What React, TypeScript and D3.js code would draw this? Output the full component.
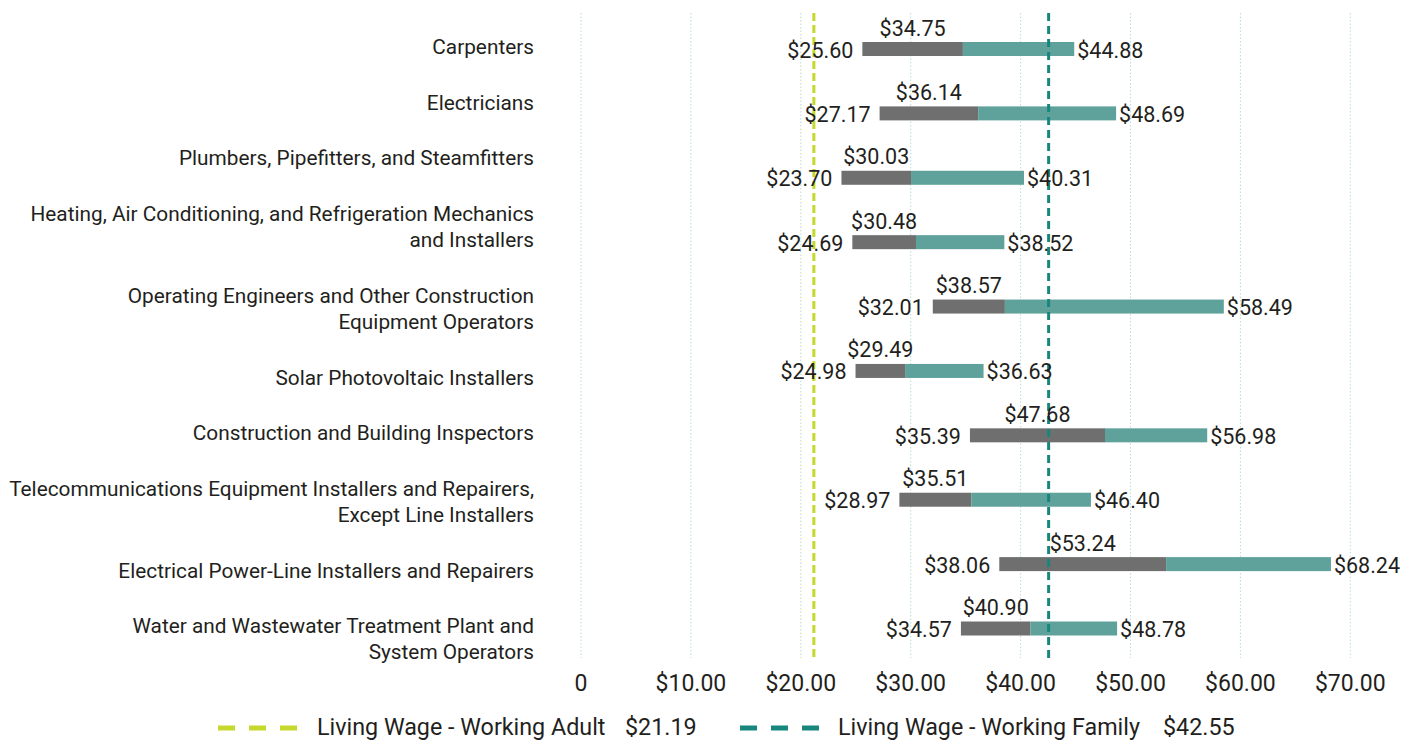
import React from "react";
import * as d3 from "d3";

const categories: string[][] = [
  ["Carpenters"],
  ["Electricians"],
  ["Plumbers, Pipefitters, and Steamfitters"],
  ["Heating, Air Conditioning, and Refrigeration Mechanics", "and Installers"],
  ["Operating Engineers and Other Construction", "Equipment Operators"],
  ["Solar Photovoltaic Installers"],
  ["Construction and Building Inspectors"],
  ["Telecommunications Equipment Installers and Repairers,", "Except Line Installers"],
  ["Electrical Power-Line Installers and Repairers"],
  ["Water and Wastewater Treatment Plant and", "System Operators"],
];
const lowWage = [25.6, 27.17, 23.7, 24.69, 32.01, 24.98, 35.39, 28.97, 38.06, 34.57];
const medianWage = [34.75, 36.14, 30.03, 30.48, 38.57, 29.49, 47.68, 35.51, 53.24, 40.9];
const highWage = [44.88, 48.69, 40.31, 38.52, 58.49, 36.63, 56.98, 46.4, 68.24, 48.78];
const tickValues = [0, 10, 20, 30, 40, 50, 60, 70];
const livingWageAdult = 21.19;
const livingWageFamily = 42.55;
const legendNames = ["Living Wage - Working Adult", "Living Wage - Working Family"];
const legendValues = [livingWageAdult, livingWageFamily];

const W = 1413;
const H = 744;
const FONT = "Roboto, 'Open Sans', sans-serif";
const TXT = "#231f20";
const GREY = "#6f6f6f";
const TEAL = "#5fa19b";
const LIME = "#c5d82c";
const DTEAL = "#17867c";
const GRID = "#b9dcd8";

export default function App() {
  const x = d3.scaleLinear().domain([0, 75]).range([581, 581 + 75 * 10.99]);
  const y = d3
    .scalePoint<number>()
    .domain(d3.range(categories.length))
    .range([49, 628.5]);
  const fmt = (v: number) => (v === 0 ? "0" : "$" + d3.format(".2f")(v));
  const plotTop = 13;
  const plotBottom = 660;
  const barH = 14;

  // category label flow layout
  const labelPos: number[][] = [];
  let cy = 47;
  categories.forEach((lines) => {
    const arr: number[] = [];
    lines.forEach((_, j) => {
      if (j > 0) cy += 26;
      arr.push(cy);
    });
    labelPos.push(arr);
    cy += 55.7;
  });

  const legend = [
    { sx: 218, tx: 317, vx: 625, color: LIME },
    { sx: 740, tx: 838, vx: 1163, color: DTEAL },
  ];

  return (
    <svg width={W} height={H} style={{ display: "block", position: "absolute", left: 0, top: 0 }} fontFamily={FONT}>
      <rect width={W} height={H} fill="#fff" />
      {tickValues.map((t) => (
        <g key={t}>
          <line x1={x(t)} x2={x(t)} y1={plotTop} y2={plotBottom - 2} stroke={GRID} strokeWidth={1} strokeDasharray="1.5 2" />
          <text x={x(t)} y={683} textAnchor="middle" dominantBaseline="central" fontSize={23} fill={TXT}>
            {fmt(t)}
          </text>
        </g>
      ))}
      {categories.map((lines, i) => (
        <g key={i}>
          {lines.map((ln, j) => (
            <text key={j} x={534} y={labelPos[i][j]} textAnchor="end" dominantBaseline="central" fontSize={20.8} fill={TXT}>
              {ln}
            </text>
          ))}
        </g>
      ))}
      {categories.map((_, i) => {
        const yc = y(i) as number;
        return (
          <g key={i}>
            <rect x={x(lowWage[i])} y={yc - barH / 2} width={x(medianWage[i]) - x(lowWage[i])} height={barH} fill={GREY} />
            <rect x={x(medianWage[i])} y={yc - barH / 2} width={x(highWage[i]) - x(medianWage[i])} height={barH} fill={TEAL} />
          </g>
        );
      })}
      <line x1={x(livingWageAdult)} x2={x(livingWageAdult)} y1={plotTop} y2={plotBottom} stroke={LIME} strokeWidth={3} strokeDasharray="8 4" />
      <line x1={x(livingWageFamily)} x2={x(livingWageFamily)} y1={plotTop} y2={plotBottom} stroke={DTEAL} strokeWidth={3} strokeDasharray="8 5" />
      {categories.map((_, i) => {
        const yc = y(i) as number;
        return (
          <g key={i} fontSize={21.5} fill={TXT}>
            <text x={(x(lowWage[i]) + x(medianWage[i])) / 2} y={yc - 21} textAnchor="middle" dominantBaseline="central">
              {fmt(medianWage[i])}
            </text>
            <text x={x(lowWage[i]) - 9} y={yc + 1} textAnchor="end" dominantBaseline="central">
              {fmt(lowWage[i])}
            </text>
            <text x={x(highWage[i]) + 3} y={yc + 1} textAnchor="start" dominantBaseline="central">
              {fmt(highWage[i])}
            </text>
          </g>
        );
      })}
      {legend.map((l, i) => (
        <g key={i}>
          <line x1={l.sx} x2={l.sx + 82} y1={728} y2={728} stroke={l.color} strokeWidth={5} strokeDasharray="17 14" />
          <text x={l.tx} y={727} dominantBaseline="central" fontSize={23.3} fill={TXT}>
            {legendNames[i]}
          </text>
          <text x={l.vx} y={727} dominantBaseline="central" fontSize={23.3} fill={TXT}>
            {fmt(legendValues[i])}
          </text>
        </g>
      ))}
    </svg>
  );
}
